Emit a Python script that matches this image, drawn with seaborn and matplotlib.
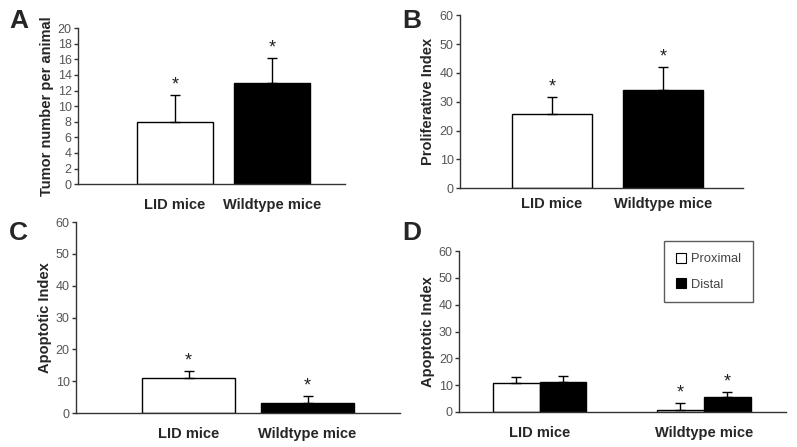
import numpy as np
import pandas as pd
import matplotlib
matplotlib.use("Agg")
import matplotlib.pyplot as plt
from matplotlib.patches import Patch
import seaborn as sns

sns.set_style("ticks")
plt.rcParams['font.family'] = ['Liberation Sans', 'DejaVu Sans']

# ---- data ----
groups = ["LID mice", "Wildtype mice"]
tumor_mean = [8.0, 13.0]
tumor_err = [3.4, 3.2]
prolif_mean = [25.7, 34.2]
prolif_err = [5.8, 7.8]
apopt_mean = [11.0, 3.3]
apopt_err = [2.2, 2.2]
regions = ["Proximal", "Distal"]
apopt_prox_mean = [10.8, 0.8]
apopt_prox_err = [2.2, 2.5]
apopt_dist_mean = [11.3, 5.6]
apopt_dist_err = [2.0, 2.0]

AX_COL = "#333333"
TICK_COL = "#555555"

fig = plt.figure(figsize=(7.97, 4.47), dpi=100)

def style_axis(ax, ylab, ymax, step, xpad):
    sns.despine(ax=ax)
    for s in ("left", "bottom"):
        ax.spines[s].set_color(AX_COL)
        ax.spines[s].set_linewidth(1.0)
    ax.set_ylim(0, ymax)
    ax.set_yticks(np.arange(0, ymax + 0.1, step))
    ax.tick_params(axis="y", length=3, width=1, color=AX_COL, labelsize=9,
                   labelcolor=TICK_COL, pad=1.5, direction="out")
    ax.tick_params(axis="x", length=0, pad=xpad, labelsize=10.5)
    for t in ax.get_xticklabels():
        t.set_fontweight("bold")
    ax.set_xlabel("")
    ax.set_ylabel(ylab, fontsize=10.5, fontweight="bold", labelpad=3)

def add_star(ax, x, y):
    ax.annotate("*", (x, y), xytext=(0, 1), textcoords="offset points",
                ha="center", va="bottom", fontsize=13, color="#222222")

def simple_panel(rect, means, errs, width, xlim, ylab, ymax, step, xpad):
    ax = fig.add_axes(rect)
    df = pd.DataFrame({"group": groups, "value": means})
    sns.barplot(data=df, x="group", y="value", hue="group",
                palette=["white", "black"], edgecolor="black", linewidth=1,
                width=width, legend=False, ax=ax, errorbar=None)
    xs = np.arange(len(groups))
    ax.errorbar(xs, means, yerr=[np.zeros(len(errs)), errs], fmt="none",
                ecolor="black", elinewidth=1, capsize=3.5, capthick=1)
    for x, m, e in zip(xs, means, errs):
        add_star(ax, x, m + e)
    ax.set_xlim(*xlim)
    style_axis(ax, ylab, ymax, step, xpad)
    return ax

axA = simple_panel([0.0979, 0.588, 0.335, 0.349], tumor_mean, tumor_err, 0.78,
                   (-1.0, 1.75), "Tumor number per animal", 20, 2, 10)
axB = simple_panel([0.577, 0.579, 0.355, 0.387], prolif_mean, prolif_err, 0.72,
                   (-0.83, 1.72), "Proliferative Index", 60, 10, 6)
axC = simple_panel([0.0954, 0.076, 0.407, 0.427], apopt_mean, apopt_err, 0.78,
                   (-0.945, 1.78), "Apoptotic Index", 60, 10, 10)

# Panel D
axD = fig.add_axes([0.576, 0.0783, 0.410, 0.360])
dfD = pd.DataFrame({
    "group": groups * 2,
    "region": [regions[0]] * 2 + [regions[1]] * 2,
    "value": apopt_prox_mean + apopt_dist_mean,
})
wD = 0.57
sns.barplot(data=dfD, x="group", y="value", hue="region", hue_order=regions,
            palette=["white", "black"], edgecolor="black", linewidth=1,
            width=wD, legend=False, ax=axD, errorbar=None)
xs = np.arange(len(groups))
for j, (m, e) in enumerate([(apopt_prox_mean, apopt_prox_err),
                            (apopt_dist_mean, apopt_dist_err)]):
    xx = xs + (j - 0.5) * wD / 2
    axD.errorbar(xx, m, yerr=[np.zeros(len(e)), e], fmt="none",
                 ecolor="black", elinewidth=1, capsize=3.5, capthick=1)
    add_star(axD, xx[1], m[1] + e[1])
axD.set_xlim(-0.49, 1.5)
style_axis(axD, "Apoptotic Index", 60, 10, 10)
handles = [Patch(facecolor="white", edgecolor="black", linewidth=0.8),
           Patch(facecolor="black", edgecolor="black", linewidth=0.8)]
leg = axD.legend(handles, regions, loc="upper right",
                 bbox_to_anchor=(0.899, 1.062), frameon=True, fancybox=False,
                 edgecolor="#333333", fontsize=9.3, labelspacing=1.0,
                 handlelength=0.8, handleheight=0.8, handletextpad=0.4,
                 borderpad=0.9, borderaxespad=0)
leg.get_frame().set_linewidth(1)
for t in leg.get_texts():
    t.set_color("#444444")

# Panel letters
for lab, (x, y) in zip("ABCD", [(9, 9), (402, 9), (9, 221), (402, 221)]):
    fig.text(x / 797, 1 - y / 447, lab, fontsize=19, fontweight="bold",
             ha="left", va="top")

fig.savefig("out.png", dpi=100)
